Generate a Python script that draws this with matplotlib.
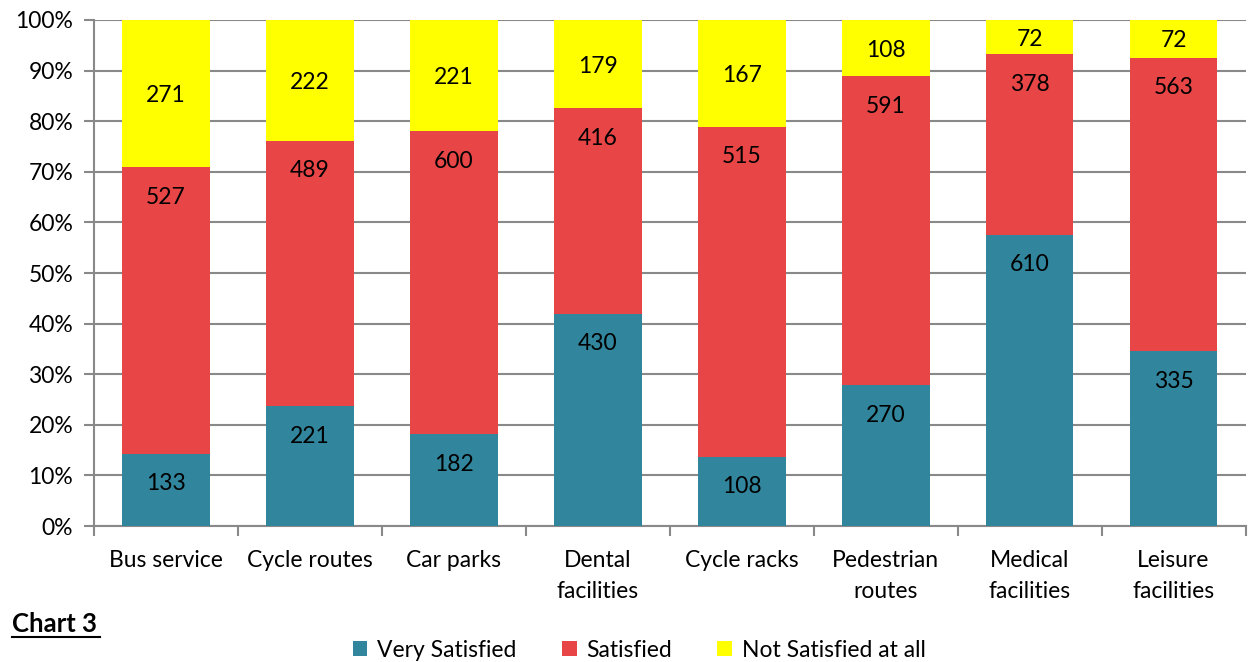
import matplotlib.pyplot as plt
import numpy as np

categories = ["Bus service", "Cycle routes", "Car parks", "Dental\nfacilities",
              "Cycle racks", "Pedestrian\nroutes", "Medical\nfacilities", "Leisure\nfacilities"]
very_satisfied = [133, 221, 182, 430, 108, 270, 610, 335]
satisfied = [527, 489, 600, 416, 515, 591, 378, 563]
not_satisfied = [271, 222, 221, 179, 167, 108, 72, 72]

series = [("Very Satisfied", very_satisfied, "#31859C"),
          ("Satisfied", satisfied, "#E84646"),
          ("Not Satisfied at all", not_satisfied, "#FFFF00")]

plt.rcParams['font.family'] = ['Lato', 'DejaVu Sans']
FS = 16.5

fig = plt.figure(figsize=(12.48, 6.62), dpi=100)
ax = fig.add_axes([0.0753, 0.2054, 0.9227, 0.7644])

x = np.arange(len(categories))
totals = np.array(very_satisfied) + np.array(satisfied) + np.array(not_satisfied)
bottom = np.zeros(len(categories))
for i, (name, vals, color) in enumerate(series):
    pct = np.array(vals) / totals * 100
    ax.bar(x, pct, 0.61, bottom=bottom, color=color, label=name, zorder=3)
    for xi, b, p, v in zip(x, bottom, pct, vals):
        if i < 2:
            # label sits near the top of the segment
            ax.annotate(str(v), (xi, b + p), xytext=(0, -30), textcoords="offset pixels",
                        ha="center", va="center", fontsize=FS, zorder=4)
        else:
            ax.annotate(str(v), (xi, b + p / 2), xytext=(0, -2), textcoords="offset pixels",
                        ha="center", va="center", fontsize=FS, zorder=4)
    bottom += pct

ax.set_xlim(-0.5, len(categories) - 0.5)
ax.set_ylim(0, 100)
ax.set_yticks(np.arange(0, 101, 10))
ax.set_yticklabels([f"{v}%" for v in range(0, 101, 10)], fontsize=FS)
ax.set_xticks(x)
ax.set_xticklabels(categories, fontsize=FS, linespacing=1.6)
ax.tick_params(axis="x", length=0, pad=17)
ax.set_xticks(np.arange(-0.5, len(categories), 1), minor=True)
ax.tick_params(axis="x", which="minor", length=7, color="#898989", width=1.5)
ax.tick_params(axis="y", length=7, color="#898989", width=1.5, pad=8)
ax.yaxis.grid(True, color="#898989", linewidth=1.5, zorder=0)
for s in ["top", "right"]:
    ax.spines[s].set_visible(False)
for s in ["left", "bottom"]:
    ax.spines[s].set_color("#898989")
    ax.spines[s].set_linewidth(1.5)

fig.legend(loc="center", bbox_to_anchor=(0.512, 0.018), ncol=3, frameon=False,
           fontsize=FS, handlelength=0.65, handleheight=0.65, handletextpad=0.4,
           columnspacing=2.0)
fig.text(0.010, 0.0453, "Chart 3", fontsize=18.5, fontweight="bold", va="baseline")
fig.add_artist(plt.Line2D([0.010, 0.080], [0.0378, 0.0378], color="black", linewidth=1.5))

fig.savefig("out.png", dpi=100)
